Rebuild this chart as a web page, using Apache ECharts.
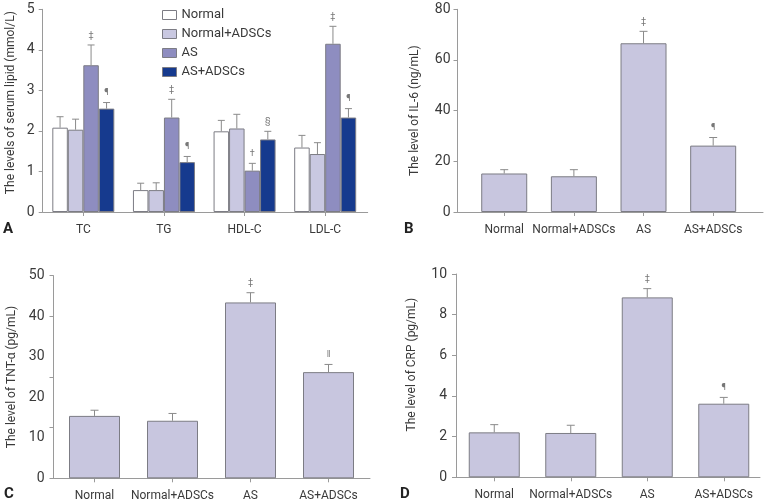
<!DOCTYPE html>
<html><head><meta charset="utf-8">
<script src="https://cdn.jsdelivr.net/npm/echarts@6/dist/echarts.min.js"></script>
<style>html,body{margin:0;padding:0;background:#fff}#c{width:765px;height:503px}</style>
</head><body><div id="c"></div>
<script>
// ---- data ----
const groups = ['Normal', 'Normal+ADSCs', 'AS', 'AS+ADSCs'];
const lipidCats = ['TC', 'TG', 'HDL-C', 'LDL-C'];
const lipidNormal = [2.08, 0.54, 1.99, 1.59];
const lipidNormalSD = [0.27, 0.17, 0.27, 0.30];
const lipidNormalADSC = [2.03, 0.54, 2.06, 1.43];
const lipidNormalADSCSD = [0.26, 0.18, 0.35, 0.28];
const lipidAS = [3.62, 2.33, 1.02, 4.15];
const lipidASSD = [0.50, 0.45, 0.18, 0.43];
const lipidASADSC = [2.55, 1.23, 1.79, 2.33];
const lipidASADSCSD = [0.15, 0.14, 0.20, 0.22];
const lipidASMarks = ['‡', '‡', '†', '‡'];
const lipidASADSCMarks = ['¶', '¶', '§', '¶'];
const noMarks = ['', '', '', ''];

const il6 = [15.2, 14.1, 66.6, 26.2];
const il6SD = [1.5, 2.6, 4.7, 3.2];
const il6Marks = ['', '', '‡', '¶'];

const tnf = [15.4, 14.2, 43.4, 26.2];
const tnfSD = [1.4, 1.8, 2.4, 1.9];
const tnfMarks = ['', '', '‡', '‖'];
const tnfLabelValues = [0, 10, 20, 30, 40, 50];
const tnfTickValues = [0, 12.5, 25, 40, 50];

const crp = [2.21, 2.18, 8.85, 3.62];
const crpSD = [0.38, 0.38, 0.43, 0.31];
const crpMarks = ['', '', '‡', '¶'];

// ---- styling ----
const FONT = "Roboto, 'Liberation Sans', sans-serif";
const AXIS = '#9a9a9a';
const TXT = '#3a3a3a';
const lipidColors = ['#ffffff', '#c9c8e1', '#8e8dc0', '#163a8e'];
const singleColor = '#c8c6df';
const BORDER = '#7c7c84';

const grids = [], xAxes = [], yAxes = [], series = [];

function errSeries(xi, means, sds, marks, offset, capW) {
  return {
    type: 'custom', xAxisIndex: xi, yAxisIndex: xi, z: 5, silent: true, clip: false,
    data: means.map((m, i) => [i, m, m + sds[i]]),
    renderItem: (p, api) => {
      const i = api.value(0);
      const a = api.coord([i, api.value(1)]);
      const b = api.coord([i, api.value(2)]);
      const x = a[0] + offset;
      const ch = [
        { type: 'line', shape: { x1: x, y1: a[1], x2: x, y2: b[1] }, style: { stroke: '#8a8a8a', lineWidth: 1 } },
        { type: 'line', shape: { x1: x - capW / 2, y1: b[1], x2: x + capW / 2, y2: b[1] }, style: { stroke: '#8a8a8a', lineWidth: 1 } }
      ];
      const mk = marks[i];
      if (mk) ch.push({ type: 'text', x: x, y: b[1] - 5, style: { text: mk, fill: '#777', font: '9px ' + FONT, align: 'center', verticalAlign: 'bottom' } });
      return { type: 'group', children: ch };
    }
  };
}

function panel(cfg) {
  const fi = grids.length;
  grids.push({ left: cfg.frame[0], top: cfg.frame[1], width: cfg.frame[2], height: cfg.frame[3] });
  grids.push({ left: cfg.bars[0], top: cfg.frame[1], width: cfg.bars[1], height: cfg.frame[3] });
  xAxes.push({ type: 'value', gridIndex: fi, min: 0, max: 1, axisLine: { show: true, lineStyle: { color: AXIS } },
    axisTick: { show: false }, axisLabel: { show: false }, splitLine: { show: false } });
  const yl = { type: 'value', gridIndex: fi, min: cfg.min, max: cfg.max, interval: cfg.interval,
    name: cfg.name, nameLocation: 'middle', nameGap: cfg.nameGap, nameRotate: 90,
    nameTextStyle: { fontFamily: FONT, fontSize: 12, color: TXT, padding: [0, 0, 0, cfg.nameShift || 0] },
    axisLine: { show: true, lineStyle: { color: AXIS } },
    axisTick: { show: true, inside: false, length: 4, lineStyle: { color: AXIS } },
    axisLabel: { fontFamily: FONT, fontSize: 14, color: TXT, margin: cfg.labelMargin },
    splitLine: { show: false } };
  if (cfg.labelValues) yl.axisLabel.customValues = cfg.labelValues;
  if (cfg.tickValues) yl.axisTick.customValues = cfg.tickValues;
  yAxes.push(yl);
  xAxes.push({ type: 'category', gridIndex: fi + 1, data: cfg.cats,
    axisLine: { show: false }, axisTick: { show: true, alignWithLabel: true, length: 4, lineStyle: { color: AXIS } },
    axisLabel: { fontFamily: FONT, fontSize: 12, color: TXT, margin: 12, interval: 0, hideOverlap: false } });
  yAxes.push({ type: 'value', gridIndex: fi + 1, min: cfg.min, max: cfg.max, show: false });
  return fi + 1;
}

// Panel A
const ai = panel({ frame: [42.7, 9.3, 325, 202.7], bars: [43, 322.5], min: 0, max: 5, interval: 1,
  cats: lipidCats, name: 'The levels of serum lipid (mmol/L)', nameGap: 26, labelMargin: 8, nameShift: 16 });
const lipidVals = [lipidNormal, lipidNormalADSC, lipidAS, lipidASADSC];
const lipidSDs = [lipidNormalSD, lipidNormalADSCSD, lipidASSD, lipidASADSCSD];
const lipidMk = [noMarks, noMarks, lipidASMarks, lipidASADSCMarks];
const bwA = 15.5;
groups.forEach((g, k) => {
  series.push({ type: 'bar', name: g, xAxisIndex: ai, yAxisIndex: ai, data: lipidVals[k], barWidth: bwA, barGap: '0%',
    itemStyle: { color: lipidColors[k], borderColor: BORDER, borderWidth: 1 } });
  series.push(errSeries(ai, lipidVals[k], lipidSDs[k], lipidMk[k], (k - 1.5) * bwA, 7));
});

// Panel B
const bi = panel({ frame: [457.5, 9.3, 305.5, 202.7], bars: [469.4, 278.6], min: 0, max: 80, interval: 20,
  cats: groups, name: 'The level of IL-6 (ng/mL)', nameGap: 37, labelMargin: 7 });
series.push({ type: 'bar', xAxisIndex: bi, yAxisIndex: bi, data: il6, barWidth: 46,
  itemStyle: { color: singleColor, borderColor: BORDER, borderWidth: 1 } });
series.push(errSeries(bi, il6, il6SD, il6Marks, 0, 8));

// Panel C
const ci = panel({ frame: [53.5, 275.7, 316.5, 202.6], bars: [55.5, 312], min: 0, max: 50, interval: 10,
  cats: groups, name: 'The level of TNT-α (pg/mL)', nameGap: 36, labelMargin: 9,
  labelValues: tnfLabelValues, tickValues: tnfTickValues });
series.push({ type: 'bar', xAxisIndex: ci, yAxisIndex: ci, data: tnf, barWidth: 51,
  itemStyle: { color: singleColor, borderColor: BORDER, borderWidth: 1 } });
series.push(errSeries(ci, tnf, tnfSD, tnfMarks, 0, 8));

// Panel D
const di = panel({ frame: [456, 274, 304, 203.3], bars: [456, 306], min: 0, max: 10, interval: 2,
  cats: groups, name: 'The level of CRP (pg/mL)', nameGap: 38, labelMargin: 9, nameShift: 22 });
series.push({ type: 'bar', xAxisIndex: di, yAxisIndex: di, data: crp, barWidth: 51,
  itemStyle: { color: singleColor, borderColor: BORDER, borderWidth: 1 } });
series.push(errSeries(di, crp, crpSD, crpMarks, 0, 8));

const letter = (t, x, y) => ({ type: 'text', left: x, top: y, style: { text: t, font: 'bold 15px ' + FONT, fill: '#222' } });

const chart = echarts.init(document.getElementById('c'), null, { renderer: 'canvas' });
chart.setOption({
  animation: false,
  backgroundColor: '#fff',
  grid: grids, xAxis: xAxes, yAxis: yAxes, series: series,
  legend: { data: groups.map(n => ({ name: n, icon: 'rect' })), orient: 'vertical', left: 157, top: 3,
    itemWidth: 14, itemHeight: 9, itemGap: 5,
    itemStyle: { borderWidth: 1, borderColor: BORDER },
    textStyle: { fontFamily: FONT, fontSize: 13, color: TXT, lineHeight: 14 }, selectedMode: false },
  graphic: [letter('A', 3, 222), letter('B', 404, 222), letter('C', 4, 487), letter('D', 400, 487)]
});
</script></body></html>
